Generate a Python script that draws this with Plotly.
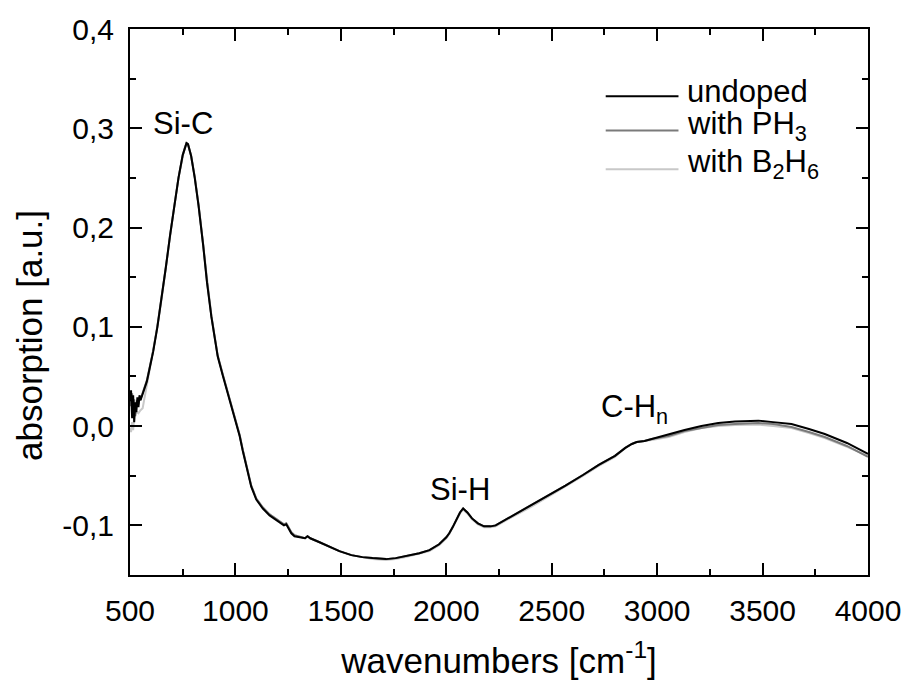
import plotly.graph_objects as go

# ---------------- data ----------------
wavenumber = [500, 505, 510, 515, 520, 525, 530, 535, 540, 545,
              550, 560, 570, 580, 595, 610, 630, 650, 670, 690,
              710, 730, 750, 760, 768, 775, 790, 807, 825, 847,
              865, 886, 900, 916, 940, 964, 985, 1005, 1020, 1035,
              1052, 1075, 1099, 1130, 1162, 1200, 1230, 1241, 1250, 1265,
              1280, 1310, 1330, 1342, 1355, 1399, 1450, 1493, 1550, 1602,
              1650, 1714, 1760, 1808, 1872, 1920, 1966, 2000, 2014, 2030,
              2045, 2065, 2080, 2100, 2122, 2150, 2179, 2210, 2234, 2300,
              2406, 2500, 2565, 2650, 2723, 2800, 2849, 2880, 2903, 2940,
              2974, 3054, 3130, 3210, 3290, 3369, 3420, 3480, 3550, 3637,
              3720, 3795, 3900, 4000]

undoped = [0.025, 0.036, 0.008, 0.031, 0.004, 0.024, 0.014, 0.029, 0.019, 0.031,
           0.026, 0.033, 0.038, 0.045, 0.060, 0.075, 0.100, 0.128, 0.160, 0.192,
           0.222, 0.250, 0.273, 0.281, 0.285, 0.284, 0.272, 0.250, 0.222, 0.182,
           0.145, 0.110, 0.090, 0.070, 0.051, 0.033, 0.018, 0.002, -0.010, -0.025,
           -0.041, -0.061, -0.074, -0.083, -0.090, -0.096, -0.100, -0.099, -0.102, -0.108,
           -0.111, -0.112, -0.113, -0.111, -0.113, -0.117, -0.122, -0.126, -0.130, -0.132,
           -0.133, -0.134, -0.133, -0.131, -0.128, -0.125, -0.119, -0.112, -0.108, -0.102,
           -0.095, -0.087, -0.083, -0.087, -0.093, -0.098, -0.101, -0.101, -0.100, -0.092,
           -0.080, -0.068, -0.060, -0.049, -0.039, -0.030, -0.022, -0.018, -0.016, -0.015,
           -0.013, -0.009, -0.004, 0.000, 0.003, 0.0045, 0.005, 0.0055, 0.004, 0.002,
           -0.003, -0.008, -0.017, -0.028]

with_ph3 = [0.030, 0.020, 0.033, 0.012, 0.027, 0.010, 0.022, 0.026, 0.022, 0.028,
            0.027, 0.034, 0.039, 0.046, 0.061, 0.076, 0.101, 0.129, 0.160, 0.192,
            0.222, 0.250, 0.273, 0.281, 0.285, 0.284, 0.272, 0.251, 0.223, 0.183,
            0.146, 0.111, 0.091, 0.071, 0.052, 0.034, 0.019, 0.003, -0.009, -0.024,
            -0.040, -0.060, -0.073, -0.082, -0.089, -0.095, -0.099, -0.098, -0.101, -0.107,
            -0.110, -0.112, -0.113, -0.111, -0.113, -0.117, -0.122, -0.126, -0.130, -0.132,
            -0.133, -0.134, -0.133, -0.131, -0.128, -0.125, -0.119, -0.112, -0.108, -0.102,
            -0.095, -0.087, -0.083, -0.087, -0.093, -0.098, -0.101, -0.101, -0.100, -0.092,
            -0.080, -0.068, -0.060, -0.049, -0.039, -0.030, -0.022, -0.018, -0.016, -0.015,
            -0.013, -0.010, -0.005, -0.002, 0.001, 0.002, 0.0025, 0.003, 0.002, -0.001,
            -0.006, -0.011, -0.020, -0.031]

with_b2h6 = [-0.002, -0.006, 0.004, -0.004, 0.010, 0.014, 0.013, 0.014, 0.013, 0.015,
             0.016, 0.018, 0.030, 0.042, 0.059, 0.075, 0.100, 0.128, 0.160, 0.192,
             0.222, 0.250, 0.273, 0.281, 0.285, 0.284, 0.272, 0.251, 0.223, 0.183,
             0.146, 0.111, 0.091, 0.071, 0.052, 0.034, 0.019, 0.003, -0.009, -0.024,
             -0.040, -0.060, -0.073, -0.082, -0.089, -0.095, -0.099, -0.098, -0.101, -0.107,
             -0.110, -0.112, -0.113, -0.111, -0.113, -0.117, -0.122, -0.126, -0.130, -0.132,
             -0.134, -0.135, -0.134, -0.132, -0.129, -0.126, -0.120, -0.113, -0.109, -0.103,
             -0.096, -0.088, -0.084, -0.088, -0.094, -0.099, -0.102, -0.102, -0.101, -0.093,
             -0.081, -0.069, -0.061, -0.050, -0.040, -0.031, -0.022, -0.018, -0.016, -0.015,
             -0.014, -0.011, -0.006, -0.002, 0.000, 0.001, 0.0012, 0.0015, 0.000, -0.002,
             -0.007, -0.012, -0.021, -0.030]

series_names = ["undoped", "with PH<sub>3</sub>", "with B<sub>2</sub>H<sub>6</sub>"]
series_colors = ["#000000", "#7a7a7a", "#c8c8c8"]

x_tick_vals = [500, 1000, 1500, 2000, 2500, 3000, 3500, 4000]
y_tick_vals = [-0.1, 0.0, 0.1, 0.2, 0.3, 0.4]
y_tick_labels = ["-0,1", "0,0", "0,1", "0,2", "0,3", "0,4"]

band_labels = ["Si-C", "Si-H", "C-H<sub>n</sub>"]
band_x = [751, 2066, 2894]
band_y = [0.305, -0.064, 0.017]

x_title = "wavenumbers [cm<sup>-1</sup>]"
y_title = "absorption [a.u.]"

# ---------------- figure ----------------
FONT = "Liberation Sans, Arial, sans-serif"
fig = go.Figure()

series_y = [undoped, with_ph3, with_b2h6]
# draw lightest first so the black curve sits on top
for idx in [2, 1, 0]:
    fig.add_trace(go.Scatter(
        x=wavenumber, y=series_y[idx], mode="lines",
        name=series_names[idx], showlegend=False,
        line=dict(color=series_colors[idx], width=2),
    ))

axis_common = dict(
    showgrid=False, zeroline=False, showline=True, linecolor="black",
    linewidth=2, mirror="ticks", ticks="inside", ticklen=12, tickwidth=2,
    tickcolor="black", tickfont=dict(family=FONT, size=30, color="black"),
)

fig.update_xaxes(
    range=[500, 4000], tickmode="array", tickvals=x_tick_vals,
    minor=dict(ticks="inside", ticklen=6, tickwidth=2, tickcolor="black",
               tickmode="linear", tick0=750, dtick=500),
    title=dict(text=x_title,
               font=dict(family=FONT, size=35, color="black"), standoff=22),
    ticklabelstandoff=8,
    **axis_common,
)
fig.update_yaxes(
    range=[-0.15, 0.4], tickmode="array", tickvals=y_tick_vals, ticktext=y_tick_labels,
    minor=dict(ticks="inside", ticklen=6, tickwidth=2, tickcolor="black",
               tickmode="linear", tick0=0.05, dtick=0.1),
    ticklabelstandoff=8,
    **axis_common,
)

annotations = []
# y-axis title, placed where the reference has it (slightly below axis centre)
annotations.append(dict(x=-0.137, y=0.4394, xref="paper", yref="paper", text=y_title,
                        showarrow=False, textangle=-90, xanchor="center", yanchor="middle",
                        font=dict(family=FONT, size=35, color="black")))

for lab, bx, by in zip(band_labels, band_x, band_y):
    annotations.append(dict(x=bx, y=by, xref="x", yref="y", text=lab, showarrow=False,
                            xanchor="center", yanchor="middle",
                            font=dict(family=FONT, size=31, color="black")))

# legend drawn in paper coordinates
legend_y = [0.877, 0.814, 0.743]
shapes = []
for name, col, ly in zip(series_names, series_colors, legend_y):
    shapes.append(dict(type="line", xref="paper", yref="paper",
                       x0=0.6446, x1=0.7432, y0=ly, y1=ly,
                       line=dict(color=col, width=2)))
    annotations.append(dict(x=0.752, y=ly, xref="paper", yref="paper", text=name,
                            showarrow=False, xanchor="left", yanchor="middle", yshift=5,
                            font=dict(family=FONT, size=31, color="black")))

fig.update_layout(
    width=913, height=686,
    margin=dict(l=130, r=43, t=25, b=108),
    plot_bgcolor="white", paper_bgcolor="white",
    font=dict(family=FONT, color="black"),
    annotations=annotations, shapes=shapes, showlegend=False,
)

fig.write_html("out.html")
